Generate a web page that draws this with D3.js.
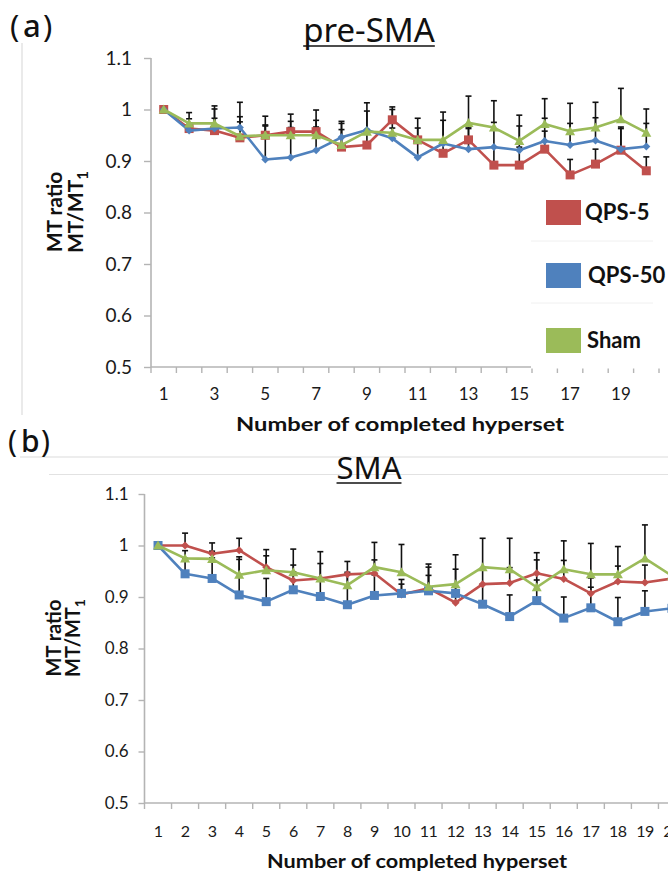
<!DOCTYPE html>
<html>
<head>
<meta charset="utf-8">
<script src="https://cdn.jsdelivr.net/npm/d3@7"></script>
<style>
  html, body { margin: 0; padding: 0; background: #fff; }
  svg { display: block; }
</style>
</head>
<body>
<svg id="fig" width="668" height="880"></svg>
<script>
// ---- data ----
const sessions = d3.range(1, 21);
const yTicks = [0.5, 0.6, 0.7, 0.8, 0.9, 1.0, 1.1];
const seriesNames = ["QPS-5", "QPS-50", "Sham"];
const seriesColors = ["#C0504D", "#4F81BD", "#9BBB59"];

// (a) pre-SMA: MT ratio and upper error per completed hyperset
const preQps5  = [1.000, 0.963, 0.959, 0.945, 0.950, 0.957, 0.957, 0.927, 0.931, 0.980, 0.941, 0.915, 0.941, 0.892, 0.892, 0.923, 0.873, 0.894, 0.921, 0.881];
const preQps50 = [1.000, 0.959, 0.963, 0.965, 0.903, 0.907, 0.921, 0.946, 0.960, 0.944, 0.907, 0.934, 0.923, 0.927, 0.921, 0.939, 0.931, 0.940, 0.923, 0.928];
const preSham  = [1.000, 0.973, 0.973, 0.948, 0.950, 0.950, 0.950, 0.931, 0.957, 0.955, 0.941, 0.941, 0.974, 0.965, 0.939, 0.972, 0.958, 0.965, 0.981, 0.955];
const preQps5Err  = [0, 0.019, 0.042, 0.041, 0.037, 0.034, 0.042, 0.050, 0.030, 0.025, 0.042, 0.020, 0.025, 0.035, 0.035, 0.035, 0.030, 0.029, 0.045, 0.027];
const preQps50Err = [0, 0.012, 0.020, 0.049, 0.065, 0.070, 0.045, 0.027, 0.053, 0.020, 0.030, 0.045, 0.040, 0.048, 0.047, 0.044, 0.042, 0.044, 0.040, 0.045];
const preShamErr  = [0, 0.021, 0.034, 0.028, 0.020, 0.015, 0.029, 0.030, 0.040, 0.045, 0.023, 0.054, 0.052, 0.052, 0.050, 0.049, 0.054, 0.049, 0.060, 0.046];

// (b) SMA
const smaQps5  = [1.000, 1.000, 0.984, 0.991, 0.958, 0.932, 0.936, 0.944, 0.946, 0.905, 0.917, 0.889, 0.925, 0.927, 0.946, 0.935, 0.907, 0.930, 0.928, 0.936];
const smaQps50 = [1.000, 0.945, 0.936, 0.904, 0.891, 0.914, 0.901, 0.885, 0.903, 0.907, 0.912, 0.907, 0.886, 0.862, 0.893, 0.859, 0.879, 0.852, 0.872, 0.878];
const smaSham  = [1.000, 0.975, 0.974, 0.943, 0.952, 0.948, 0.936, 0.923, 0.958, 0.948, 0.920, 0.925, 0.958, 0.954, 0.919, 0.954, 0.944, 0.944, 0.975, 0.941];
const smaQps5Err  = [0, 0.024, 0.021, 0.023, 0.022, 0.030, 0.029, 0.025, 0.026, 0.020, 0.047, 0.030, 0.030, 0.030, 0.040, 0.036, 0.030, 0.030, 0.034, 0.030];
const smaQps50Err = [0, 0.030, 0.040, 0.074, 0.045, 0.035, 0.035, 0.060, 0.040, 0.027, 0.030, 0.047, 0.039, 0.042, 0.040, 0.041, 0.040, 0.047, 0.040, 0.040];
const smaShamErr  = [0, 0.015, 0.015, 0.030, 0.040, 0.045, 0.052, 0.025, 0.048, 0.054, 0.038, 0.057, 0.056, 0.060, 0.053, 0.055, 0.060, 0.054, 0.065, 0.050];

const xTitle = "Number of completed hyperset";

// ---- drawing ----
const svg = d3.select("#fig");
const FONT = "Lato, 'Open Sans', sans-serif";

function marker(sel, shape, color, size) {
  if (shape === "square") {
    sel.append("rect").attr("x", -size / 2).attr("y", -size / 2)
      .attr("width", size).attr("height", size).attr("fill", color);
  } else if (shape === "diamond") {
    const s = size / 2;
    sel.append("path").attr("d", `M0,${-s}L${s},0L0,${s}L${-s},0Z`).attr("fill", color);
  } else {
    const s = size / 2;
    sel.append("path").attr("d", `M0,${-s}L${s},${s * 0.8}L${-s},${s * 0.8}Z`).attr("fill", color);
  }
}

function drawPanel(o) {
  const g = svg.append("g");
  const x = d3.scaleBand().domain(sessions).range([o.x0, o.x1]);
  const y = d3.scaleLinear().domain([0.5, 1.1]).range([o.yBottom, o.yTop]);
  const cx = d => x(d) + x.bandwidth() / 2;

  // y axis
  const yAxis = g.append("g").attr("transform", `translate(${o.x0},0)`)
    .call(d3.axisLeft(y).tickValues(yTicks).tickSize(o.yTickLen).tickPadding(o.yPad)
      .tickFormat(d3.format("~g")));
  yAxis.select(".domain").attr("stroke", "#b4b4b4").attr("stroke-width", 1.6)
    .attr("d", `M0,${o.yTop}V${o.yBottom}`);
  yAxis.selectAll(".tick line").attr("stroke", "#b4b4b4").attr("stroke-width", 1.4);
  yAxis.selectAll(".tick text").attr("fill", "#1a1a1a")
    .style("font-family", FONT).style("font-size", o.yFont + "px");

  // x axis: line, tick marks on category boundaries, labels at centres
  const bounds = sessions.map(d => x(d)).concat([o.x1]);
  g.append("line").attr("x1", o.x0).attr("x2", o.x1).attr("y1", o.yBottom).attr("y2", o.yBottom)
    .attr("stroke", "#b4b4b4").attr("stroke-width", 1.6);
  g.selectAll(".xt").data(bounds).join("line")
    .attr("x1", d => d).attr("x2", d => d)
    .attr("y1", o.yBottom).attr("y2", o.yBottom + 6)
    .attr("stroke", "#b4b4b4").attr("stroke-width", 1.4);

  // error bars (upper only) then lines and markers
  o.series.forEach(s => {
    const eg = g.append("g");
    s.values.forEach((v, i) => {
      const e = s.err[i];
      if (!e) return;
      const px = cx(sessions[i]);
      eg.append("line").attr("x1", px).attr("x2", px).attr("y1", y(v)).attr("y2", y(v + e))
        .attr("stroke", "#111").attr("stroke-width", 1.6);
      eg.append("line").attr("x1", px - 3).attr("x2", px + 3).attr("y1", y(v + e)).attr("y2", y(v + e))
        .attr("stroke", "#111").attr("stroke-width", 1.6);
    });
  });
  const line = d3.line().x((v, i) => cx(sessions[i])).y(v => y(v));
  o.series.forEach(s => {
    g.append("path").datum(s.values).attr("d", line)
      .attr("fill", "none").attr("stroke", s.color).attr("stroke-width", 2.6)
      .attr("stroke-linejoin", "round");
    s.values.forEach((v, i) => {
      const m = g.append("g").attr("transform", `translate(${cx(sessions[i])},${y(v)})`);
      marker(m, s.shape, s.color, s.size);
    });
  });

  // legend box over the lower right of the plot
  if (o.legend) {
    const L = o.legend;
    g.append("rect").attr("x", L.x).attr("y", L.y).attr("width", L.w).attr("height", L.h).attr("fill", "#fff");
    L.seps.forEach(sy => g.append("line").attr("x1", L.x).attr("x2", L.x + L.w - 15)
      .attr("y1", sy).attr("y2", sy).attr("stroke", "#f0f0f0").attr("stroke-width", 1));
    seriesNames.forEach((n, i) => {
      const ry = L.rows[i];
      g.append("rect").attr("x", L.px).attr("y", ry - 12.5).attr("width", 35).attr("height", 25)
        .attr("fill", seriesColors[i]);
      g.append("text").attr("x", L.tx[i]).attr("y", ry + 7.5).text(n)
        .attr("fill", "#111").style("font-family", FONT).style("font-weight", 700)
        .style("font-size", L.font + "px");
    });
  }

  // x tick labels
  g.selectAll(".xl").data(o.xLabels).join("text")
    .attr("x", d => cx(d)).attr("y", o.xLabelY).attr("text-anchor", "middle")
    .attr("fill", "#1a1a1a").style("font-family", FONT).style("font-size", o.xFont + "px")
    .style("letter-spacing", o.xSpacing || 0)
    .text(d => d);

  // x axis title
  g.append("text").attr("x", o.xTitleX).attr("y", o.xTitleY).attr("text-anchor", "middle")
    .attr("textLength", o.xTitleLen).attr("lengthAdjust", "spacingAndGlyphs")
    .attr("fill", "#111").style("font-family", FONT).style("font-weight", 700)
    .style("font-size", o.xTitleFont + "px").text(xTitle);

  // y axis title (two rotated lines)
  g.append("text").attr("transform", `translate(${o.yTitleX1},${o.yTitleY}) rotate(-90)`)
    .attr("text-anchor", "middle").attr("fill", "#111")
    .style("font-family", FONT).style("font-weight", 700).style("font-size", o.yTitleFont + "px")
    .text("MT ratio");
  const t2 = g.append("text").attr("transform", `translate(${o.yTitleX2},${o.yTitleY}) rotate(-90)`)
    .attr("text-anchor", "middle").attr("fill", "#111")
    .style("font-family", FONT).style("font-weight", 700).style("font-size", o.yTitleFont + "px");
  t2.append("tspan").text("MT/MT");
  t2.append("tspan").attr("dy", 5).style("font-size", (o.yTitleFont - 6) + "px").text("1");

  // panel title, underlined
  const tt = g.append("text").attr("x", o.titleX).attr("y", o.titleY).attr("text-anchor", "middle")
    .attr("fill", "#111").style("font-family", "'Noto Sans', sans-serif")
    .style("font-size", o.titleFont + "px").text(o.title);
  const tw = tt.node().getComputedTextLength();
  g.append("line").attr("x1", o.titleX - tw / 2).attr("x2", o.titleX + tw / 2)
    .attr("y1", o.titleY + 4).attr("y2", o.titleY + 4).attr("stroke", "#111").attr("stroke-width", 1.6);

  // panel letter
  const pl = g.append("g").attr("fill", "#111").style("font-family", "'Noto Sans', sans-serif")
    .style("font-size", o.letterFont + "px");
  pl.append("text").attr("x", o.letterX).attr("y", o.letterY).text("(");
  pl.append("text").attr("x", o.letterX + 13).attr("y", o.letterY).style("font-weight", 500).text(o.letter);
  pl.append("text").attr("x", o.letterX + 33).attr("y", o.letterY).text(")");
}

// frame lines
svg.append("line").attr("x1", 22).attr("x2", 22).attr("y1", 43).attr("y2", 415)
  .attr("stroke", "#dcdcdc").attr("stroke-width", 1.2);
svg.append("line").attr("x1", 20).attr("x2", 668).attr("y1", 457).attr("y2", 457)
  .attr("stroke", "#dcdcdc").attr("stroke-width", 1.2);
svg.append("line").attr("x1", 49).attr("x2", 668).attr("y1", 474.5).attr("y2", 474.5)
  .attr("stroke", "#e2e2e2").attr("stroke-width", 1.2);

drawPanel({
  x0: 151, x1: 659, yTop: 58, yBottom: 367,
  yTickLen: 7, yPad: 12, yFont: 19,
  xLabels: sessions.filter(d => d % 2 === 1), xLabelY: 400, xFont: 17,
  xTitleX: 400, xTitleY: 431, xTitleLen: 328, xTitleFont: 19,
  yTitleX1: 62, yTitleX2: 83, yTitleY: 212, yTitleFont: 21,
  title: "pre-SMA", titleX: 369, titleY: 42, titleFont: 33,
  letter: "a", letterX: 10, letterY: 37, letterFont: 31,
  series: [
    { values: preQps5,  err: preQps5Err,  color: seriesColors[0], shape: "square",   size: 9 },
    { values: preQps50, err: preQps50Err, color: seriesColors[1], shape: "diamond",  size: 8 },
    { values: preSham,  err: preShamErr,  color: seriesColors[2], shape: "triangle", size: 10 }
  ],
  legend: { x: 531, y: 188, w: 137, h: 180.5, px: 546, rows: [212.5, 275.5, 340.5],
            tx: [585, 588, 587], font: 22, seps: [241, 303] }
});

drawPanel({
  x0: 144.5, x1: 685.5, yTop: 494, yBottom: 803,
  yTickLen: 6, yPad: 10, yFont: 17,
  xLabels: sessions, xLabelY: 837, xFont: 16, xSpacing: "-0.5px",
  xTitleX: 417, xTitleY: 868, xTitleLen: 300, xTitleFont: 18,
  yTitleX1: 61, yTitleX2: 80, yTitleY: 638, yTitleFont: 20,
  title: "SMA", titleX: 369, titleY: 479, titleFont: 31,
  letter: "b", letterX: 8, letterY: 452, letterFont: 30,
  series: [
    { values: smaQps5,  err: smaQps5Err,  color: seriesColors[0], shape: "diamond",  size: 8 },
    { values: smaQps50, err: smaQps50Err, color: seriesColors[1], shape: "square",   size: 9 },
    { values: smaSham,  err: smaShamErr,  color: seriesColors[2], shape: "triangle", size: 10 }
  ]
});
</script>
</body>
</html>
